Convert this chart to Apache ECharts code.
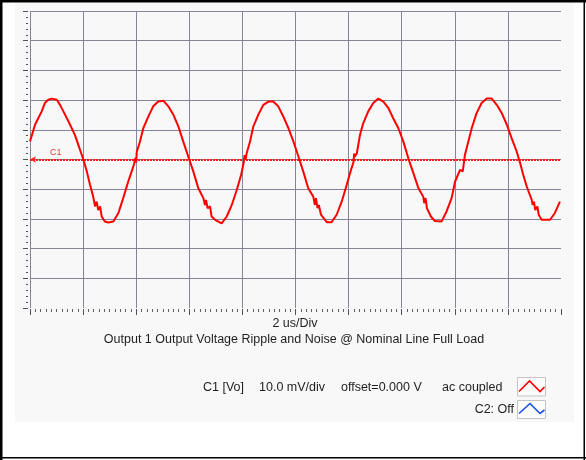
<!DOCTYPE html>
<html>
<head>
<meta charset="utf-8">
<script src="https://cdn.jsdelivr.net/npm/echarts@6/dist/echarts.min.js"></script>
<style>
html,body{margin:0;padding:0;background:#fff;}
#chart{width:586px;height:460px;}
</style>
</head>
<body>
<div id="chart"></div>
<script>
// Time axis (microseconds) and channel C1 ripple values (mV)
const timeUs = [
  0.00,0.19,0.31,0.44,0.56,0.69,0.82,1.01,1.13,1.32,1.51,1.69,1.82,2.01,2.14,2.26,
  2.38,2.45,2.51,2.57,2.64,2.70,2.76,2.82,2.95,3.14,3.33,3.51,3.70,3.83,3.92,3.97,4.00,4.02,
  4.14,4.27,4.46,4.64,4.83,5.02,5.21,5.40,5.59,5.77,5.96,6.15,6.34,
  6.53,6.59,6.63,6.69,6.78,6.84,6.97,7.03,7.22,7.41,7.60,7.79,7.95,8.05,8.08,8.12,8.16,
  8.29,8.41,8.60,8.79,8.98,9.16,9.35,9.54,9.73,9.92,10.11,10.29,10.48,
  10.67,10.73,10.77,10.83,10.88,10.96,11.11,11.18,11.36,11.55,11.74,11.93,12.09,12.18,12.21,12.24,12.31,
  12.43,12.55,12.74,12.93,13.12,13.31,13.50,13.68,13.87,14.06,14.25,14.44,14.63,
  14.81,14.85,14.90,14.95,15.00,15.10,15.25,15.32,15.50,15.69,15.88,16.01,16.20,16.30,16.38,
  16.51,16.64,16.82,17.01,17.20,17.39,17.58,17.77,17.96,18.14,18.33,18.46,18.58,18.71,18.83,
  18.90,18.93,18.98,19.03,19.11,19.16,19.27,19.40,19.59,19.77,19.96
];
const rippleMv = [
  6.1,11.7,13.9,16.2,19.0,20.1,20.5,20.1,18.4,15.1,11.7,8.3,4.9,0.0,-4.0,-8.5,
  -12.5,-15.8,-14.2,-17.0,-15.8,-19.2,-18.6,-20.9,-21.2,-20.9,-18.0,-13.0,-7.4,-4.0,-1.5,0.5,-1.0,2.5,
  6.0,10.6,14.5,17.9,19.5,19.8,17.9,15.1,11.1,6.1,1.0,-4.0,-9.7,
  -13.0,-15.3,-13.6,-16.4,-15.8,-19.2,-20.3,-20.9,-21.5,-19.2,-15.3,-10.2,-5.2,-1.0,1.5,0.0,2.1,
  6.1,11.1,15.1,18.4,19.5,19.5,17.9,14.5,10.6,6.1,1.0,-4.0,-9.7,
  -12.5,-15.3,-13.0,-16.4,-15.3,-18.6,-20.3,-21.1,-21.1,-18.6,-14.2,-8.5,-3.5,-1.0,2.0,1.0,2.1,
  8.3,12.2,16.2,19.0,20.5,19.5,17.3,13.9,10.6,6.1,0.4,-4.6,-9.7,
  -12.5,-14.7,-13.0,-16.4,-15.8,-19.2,-20.7,-21.2,-20.9,-17.5,-13.0,-7.4,-3.5,-4.0,1.5,
  6.1,10.6,15.6,19.0,20.5,20.5,18.4,15.6,11.7,7.2,2.7,-1.2,-5.2,-9.1,-12.0,
  -13.6,-15.3,-14.2,-17.0,-15.8,-18.6,-20.3,-20.3,-20.3,-18.0,-14.2
];
// Axis setup: 10 divisions of 2 us, 10 divisions of 10 mV
const timeDivUs = 2;
const timeRange = [0, 20];
const voltDivMv = 10;
const voltRange = [-50, 50];
const channelName = 'C1';

const texts = {
  timeBase: '2 us/Div',
  caption: 'Output 1 Output Voltage Ripple and Noise @ Nominal Line Full Load',
  c1Name: 'C1 [Vo]',
  c1Scale: '10.0 mV/div',
  c1Offset: 'offset=0.000 V',
  c1Coupling: 'ac coupled',
  c2: 'C2: Off'
};

const seriesData = timeUs.map((t, i) => [t, rippleMv[i]]);
const FONT = 'Liberation Sans';
const gridColor = '#85859a';

const chart = echarts.init(document.getElementById('chart'), null, {renderer: 'canvas'});
const txt = (x, y, s, align) => ({
  type: 'text', x: x, y: y, z: 50,
  style: {text: s, fill: '#1e1e1e', font: '12.5px "' + FONT + '"', textAlign: align || 'left', textVerticalAlign: 'middle'}
});
chart.setOption({
  backgroundColor: '#ffffff',
  animation: false,
  grid: {left: 30, top: 11, width: 531, height: 297, show: false},
  xAxis: {
    type: 'value', min: timeRange[0], max: timeRange[1], interval: timeDivUs, offset: 1,
    axisLine: {show: false, onZero: false}, axisLabel: {show: false},
    axisTick: {show: true, length: 6, lineStyle: {color: '#505050', width: 1}},
    minorTick: {show: true, splitNumber: 10, length: 3, lineStyle: {color: '#606060', width: 1}},
    splitLine: {show: true, showMinLine: true, showMaxLine: false, lineStyle: {color: gridColor, width: 1}}
  },
  yAxis: {
    type: 'value', min: voltRange[0], max: voltRange[1], interval: voltDivMv, offset: 2,
    axisLine: {show: false, onZero: false}, axisLabel: {show: false},
    axisTick: {show: true, length: 5, lineStyle: {color: '#505050', width: 1}},
    minorTick: {show: true, splitNumber: 5, length: 2, lineStyle: {color: '#505050', width: 1}},
    splitLine: {show: true, showMinLine: false, showMaxLine: true, lineStyle: {color: gridColor, width: 1}}
  },
  series: [{
    name: channelName, type: 'line', data: seriesData, showSymbol: false, smooth: false,
    lineStyle: {color: '#ff0000', width: 2}, itemStyle: {color: '#ff0000'}, z: 5,
    markLine: {
      silent: true, symbol: ['arrow', 'none'], symbolSize: [5, 6],
      data: [{yAxis: 0}],
      lineStyle: {color: '#ff1a1a', type: [2, 1], width: 2},
      label: {show: true, formatter: channelName, position: 'insideStartTop', color: '#e83a3a',
              fontSize: 9, fontFamily: FONT, distance: [20, 2]}
    }
  }],
  graphic: [
    {type: 'rect', z: -20, shape: {x: 15, y: 3, width: 559, height: 419}, style: {fill: '#f8f8f8'}},
    {type: 'rect', z: 60, shape: {x: 0, y: 0, width: 586, height: 2.5}, style: {fill: '#000'}},
    {type: 'rect', z: 60, shape: {x: 0, y: 0, width: 2.5, height: 460}, style: {fill: '#000'}},
    {type: 'rect', z: 60, shape: {x: 583.5, y: 0, width: 1.5, height: 460}, style: {fill: '#000'}},
    {type: 'rect', z: 60, shape: {x: 0, y: 457, width: 586, height: 1.5}, style: {fill: '#000'}},
    txt(295, 324, texts.timeBase, 'center'),
    txt(294, 340, texts.caption, 'center'),
    txt(203, 387.5, texts.c1Name),
    txt(259, 387.5, texts.c1Scale),
    txt(341, 387.5, texts.c1Offset),
    txt(442, 387.5, texts.c1Coupling),
    txt(514, 410, texts.c2, 'right'),
    {type: 'rect', z: 50, shape: {x: 517.5, y: 377.5, width: 28, height: 18.5}, style: {fill: '#fcfcfc', stroke: '#c4c4c4', lineWidth: 1}},
    {type: 'polyline', z: 51, shape: {points: [[519, 391.5], [529.5, 381], [540, 391.5], [544.5, 387]]}, style: {stroke: '#ff0000', lineWidth: 1.6, fill: null}},
    {type: 'rect', z: 50, shape: {x: 517.5, y: 400.5, width: 28, height: 18}, style: {fill: '#fcfcfc', stroke: '#c4c4c4', lineWidth: 1}},
    {type: 'polyline', z: 51, shape: {points: [[519, 413.5], [530, 403.5], [540, 413.5], [544.5, 410]]}, style: {stroke: '#1a4fe8', lineWidth: 1.6, fill: null}}
  ]
});
</script>
</body>
</html>
